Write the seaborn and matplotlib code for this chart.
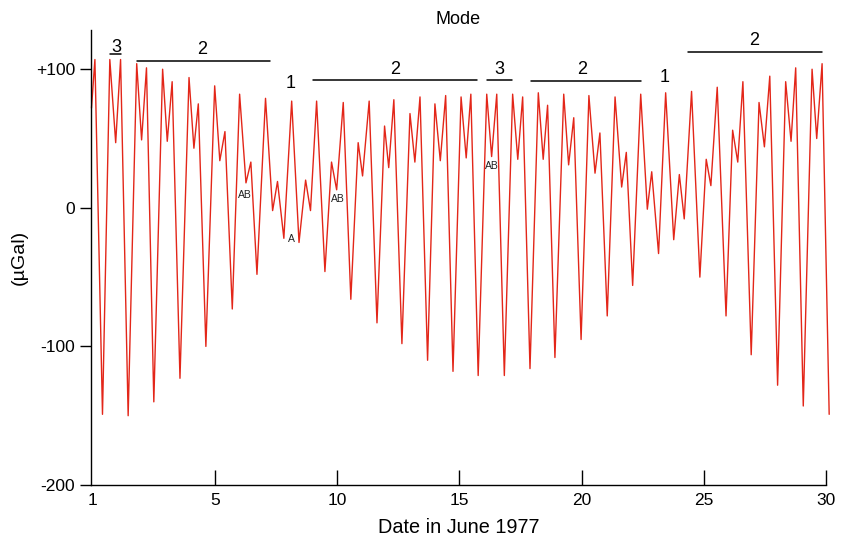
import matplotlib
matplotlib.use("Agg")
import matplotlib.pyplot as plt
import seaborn as sns
import pandas as pd

# ---- data: turning points of the gravity record (day offset, µGal) ----
days_a = [-0.05, 0.09, 0.40, 0.70, 0.94, 1.14, 1.45, 1.80, 2.00, 2.20, 2.50, 2.86, 3.05, 3.25]
vals_a = [72, 107, -149, 107, 47, 107, -150, 104, 49, 101, -140, 100, 48, 91]
days_b = [3.57, 3.94, 4.14, 4.32, 4.63, 4.99, 5.20, 5.41, 5.71, 6.01, 6.27, 6.47, 6.72, 7.07]
vals_b = [-123, 94, 43, 75, -100, 88, 34, 55, -73, 82, 18, 33, -48, 79]
days_c = [7.36, 7.56, 7.82, 8.14, 8.44, 8.71, 8.91, 9.16, 9.50, 9.77, 9.98, 10.25, 10.56, 10.86]
vals_c = [-2, 19, -22, 77, -25, 20, -2, 77, -46, 33, 13, 76, -66, 47]
days_d = [11.04, 11.31, 11.63, 11.94, 12.11, 12.32, 12.65, 12.98, 13.18, 13.39, 13.70, 14.00, 14.22, 14.44]
vals_d = [23, 77, -83, 59, 29, 78, -98, 68, 33, 80, -110, 75, 34, 81]
days_e = [14.74, 15.07, 15.28, 15.47, 15.77, 16.12, 16.32, 16.53, 16.84, 17.18, 17.39, 17.59, 17.89, 18.23]
vals_e = [-118, 80, 36, 82, -121, 82, 37, 82, -121, 82, 35, 80, -116, 83]
days_f = [18.43, 18.61, 18.91, 19.27, 19.47, 19.68, 19.98, 20.30, 20.55, 20.75, 21.05, 21.37, 21.64, 21.83]
vals_f = [35, 74, -108, 82, 31, 65, -95, 81, 25, 54, -78, 80, 15, 40]
days_g = [22.09, 22.42, 22.69, 22.87, 23.15, 23.44, 23.77, 24.00, 24.20, 24.50, 24.84, 25.10, 25.29, 25.55]
vals_g = [-56, 82, -1, 26, -33, 83, -23, 24, -8, 84, -50, 35, 16, 87]
days_h = [25.91, 26.18, 26.39, 26.60, 26.94, 27.26, 27.48, 27.70, 28.02, 28.35, 28.57, 28.76, 29.07, 29.43, 29.62, 29.84, 30.13]
vals_h = [-78, 56, 33, 91, -106, 76, 44, 95, -128, 91, 48, 101, -143, 100, 50, 104, -149]

x_ticks = [0, 5, 10, 15, 20, 25, 30]
x_tick_labels = ["1", "5", "10", "15", "20", "25", "30"]
y_ticks = [-200, -100, 0, 100]
y_tick_labels = ["-200", "-100", "0", "+100"]

# mode labels: (text, label x, label y, bar start, bar end, bar y)
mode_text = ["3", "2", "1", "2", "3", "2", "1", "2"]
mode_x = [0.95, 4.47, 8.11, 12.36, 16.63, 20.04, 23.41, 27.05]
mode_y = [116, 114, 90, 99.5, 100, 99.5, 93.7, 120.4]
bar_x0 = [0.70, 1.82, None, 9.02, 16.14, 17.93, None, 24.34]
bar_x1 = [1.15, 7.25, None, 15.74, 17.16, 22.42, None, 29.82]
bar_y = [110.8, 106, None, 92.3, 92.1, 91.6, None, 112.7]

small_text = ["AB", "A", "AB", "AB"]
small_x = [6.23, 8.13, 10.04, 16.32]
small_y = [9.4, -22.4, 6.5, 30.3]

days = days_a + days_b + days_c + days_d + days_e + days_f + days_g + days_h
vals = vals_a + vals_b + vals_c + vals_d + vals_e + vals_f + vals_g + vals_h
df = pd.DataFrame({"day": days, "gal": vals})

sns.set_style("ticks")
plt.rcParams["font.family"] = ["Liberation Sans", "DejaVu Sans"]
plt.rcParams["text.color"] = "black"
plt.rcParams["axes.labelcolor"] = "black"
plt.rcParams["xtick.color"] = "black"
plt.rcParams["ytick.color"] = "black"

fig = plt.figure(figsize=(8.51, 5.37), dpi=100)
ax = fig.add_axes([91 / 851, 1 - 485 / 537, 735 / 851, 455 / 537])

sns.lineplot(data=df, x="day", y="gal", ax=ax, color="#e32619", linewidth=1.0,
             sort=False, estimator=None, clip_on=False)

ax.set_xlim(-0.07, 30)
ax.set_ylim(-200, 128.3)
ax.set_xticks(x_ticks)
ax.set_xticklabels(x_tick_labels)
ax.set_yticks(y_ticks)
ax.set_yticklabels(y_tick_labels)
ax.tick_params(axis="x", direction="in", length=11, width=1, labelsize=12.5, pad=6,
               color="black", labelcolor="black")
ax.tick_params(axis="y", direction="out", length=8, width=1, labelsize=12.5, pad=3.5,
               color="black", labelcolor="black")
ax.xaxis.get_major_ticks()[0].tick1line.set_visible(False)
for s in ["top", "right"]:
    ax.spines[s].set_visible(False)
for s in ["left", "bottom"]:
    ax.spines[s].set_linewidth(1)
    ax.spines[s].set_color("black")

ax.set_xlabel("Date in June 1977", fontsize=14.3, labelpad=7, color="black")
ax.set_ylabel("(µGal)", fontsize=14, labelpad=6, color="black")
ax.set_title("Mode", fontsize=13, pad=4, color="black")

for t, lx, ly, b0, b1, by in zip(mode_text, mode_x, mode_y, bar_x0, bar_x1, bar_y):
    ax.text(lx, ly, t, ha="center", va="center", fontsize=13, color="black", clip_on=False)
    if b0 is not None:
        ax.plot([b0, b1], [by, by], color="black", linewidth=1.1, clip_on=False)

for t, sx, sy in zip(small_text, small_x, small_y):
    ax.text(sx, sy, t, ha="center", va="center", fontsize=7.5, color="#222222")

fig.savefig("out.png", dpi=100)
